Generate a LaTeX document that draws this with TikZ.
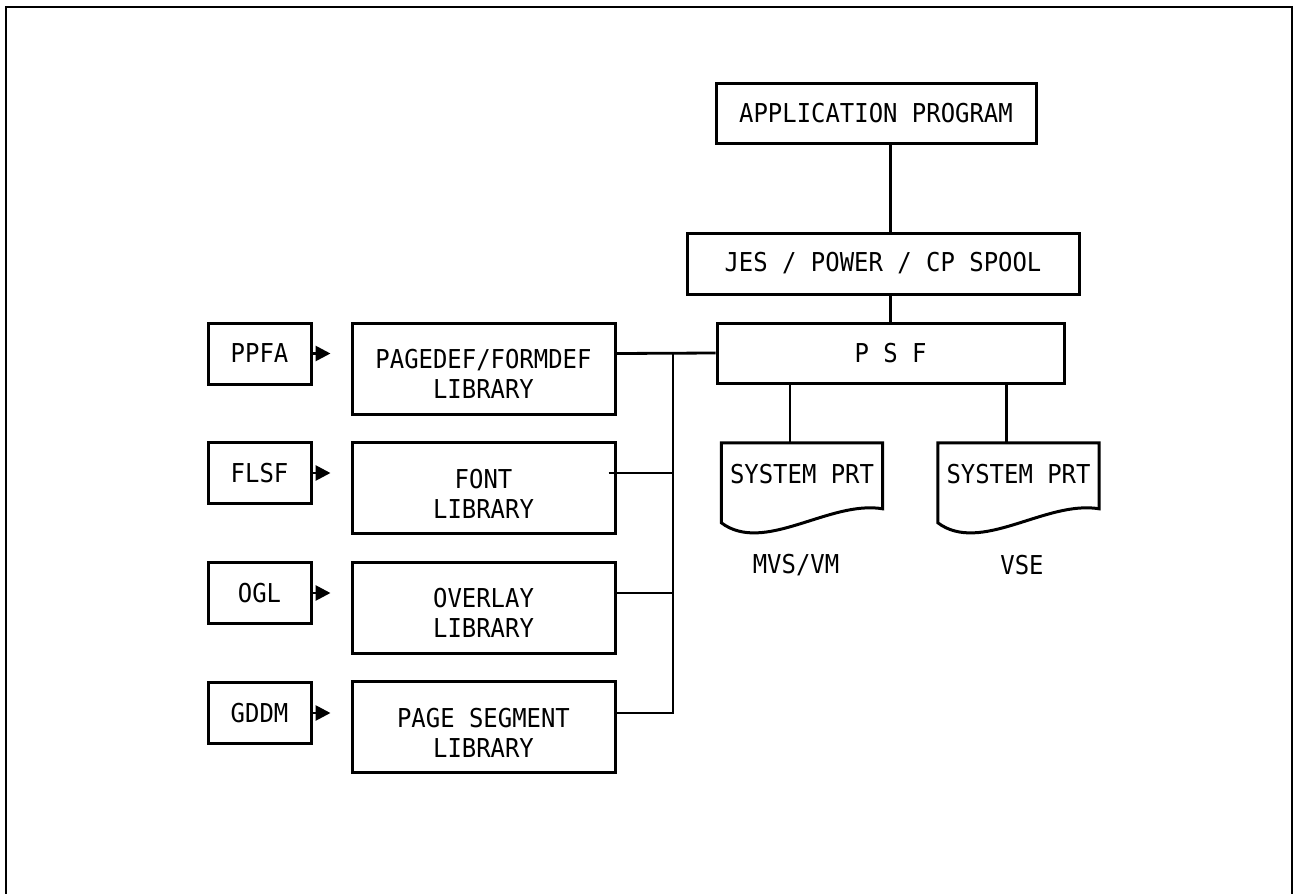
\documentclass[tikz,border=0pt]{standalone}
\usepackage{fontspec}
\newfontfamily\ibmfont{DejaVu Sans Mono}[FakeStretch=0.92]
\usetikzlibrary{calc}
\usetikzlibrary{arrows.meta}

% printout outline round a named sheet node
\newcommand\prtsheet[1]{%
  \draw[line width=3pt] ($(#1.north west)+(0,80)$) -- (#1.north west) -- (#1.north east)
    -- ($(#1.north east)+(0,66)$)
    .. controls ($(#1.north west)+(108,57)$) and ($(#1.north west)+(43,112)$) .. ($(#1.north west)+(0,80)$)
    -- cycle;}
% pushes the two library lines a little down
\newcommand\libstrut{\rule{0pt}{30pt}}

\begin{document}
\begin{tikzpicture}[x=1pt, y=-1pt,
    every node/.style={font=\ibmfont\fontsize{26}{30}\selectfont, inner sep=0pt},
    box/.style={draw, line width=3pt, align=center},
    tool/.style={box, minimum width=103pt, minimum height=61pt},
    lib/.style={box, minimum width=263pt, minimum height=91pt},
    sheet/.style={minimum width=161pt, minimum height=90pt, text height=18pt, text depth=28pt},
    link/.style={line width=2.8pt},
    feed/.style={link, -{Triangle[length=15pt,width=15pt]}, shorten >=20pt}
    ]
    \useasboundingbox (0,0) rectangle (1296,894);
    \draw[line width=2pt] (6,894) -- (6,7) -- (1292,7) -- (1292,894);

    \node[box, minimum width=320pt, minimum height=60pt] (app) at (876,113) {APPLICATION PROGRAM};
    \node[box, minimum width=392pt, minimum height=61pt] (jes) at (883,263.5) {JES / POWER / CP SPOOL};
    \node[box, minimum width=347pt, minimum height=60pt] (psf) at (890.5,353) {P S F};

    \node[tool] (ppfa) at (259.5,353.5) {PPFA};
    \node[tool] (flsf) at (259.5,473) {FLSF};
    \node[tool] (ogl)  at (259.5,593) {OGL};
    \node[tool] (gddm) at (259.5,713) {GDDM};

    \node[lib] (pagedef) at (483.5,368.5) {\libstrut PAGEDEF/FORMDEF\\LIBRARY};
    \node[lib] (font)    at (483.5,488)   {\libstrut FONT\\LIBRARY};
    \node[lib] (overlay) at (483.5,607.5) {\libstrut OVERLAY\\LIBRARY};
    \node[lib] (pageseg) at (483.5,727)   {\libstrut PAGE SEGMENT\\LIBRARY};

    \node[sheet] (prt1) at (802,488)    {SYSTEM PRT};
    \node[sheet] (prt2) at (1018.5,488) {SYSTEM PRT};
    \prtsheet{prt1}
    \prtsheet{prt2}
    \node (mvs) at (796,565)  {MVS/VM};
    \node (vse) at (1022,565) {VSE};

    % spool chain
    \draw[link] (psf.north |- app.south) -- (psf.north |- jes.north);
    \draw[link] (psf.north |- jes.south) -- (psf.north);
    \draw[link] ([xshift=-12]prt1.north |- psf.south) -- ([xshift=-12]prt1.north);
    \draw[link] ([xshift=-12]prt2.north |- psf.south) -- ([xshift=-12]prt2.north);

    % utilities into libraries
    \draw[feed] (ppfa.east) -- (ppfa.east -| pagedef.west);
    \draw[feed] (flsf.east) -- (flsf.east -| font.west);
    \draw[feed] (ogl.east)  -- (ogl.east -| overlay.west);
    \draw[feed] (gddm.east) -- (gddm.east -| pageseg.west);

    % library bus
    \coordinate (bustop) at (673,353);
    \draw[link] (ppfa.east -| pagedef.east) -- (psf.west);
    \draw[link] (bustop) -- (bustop |- gddm.east) -- (gddm.east -| pageseg.east);
    \draw[link] ([xshift=-8]flsf.east -| font.east) -- (flsf.east -| bustop);
    \draw[link] (ogl.east -| overlay.east) -- (ogl.east -| bustop);
\end{tikzpicture}
\end{document}
